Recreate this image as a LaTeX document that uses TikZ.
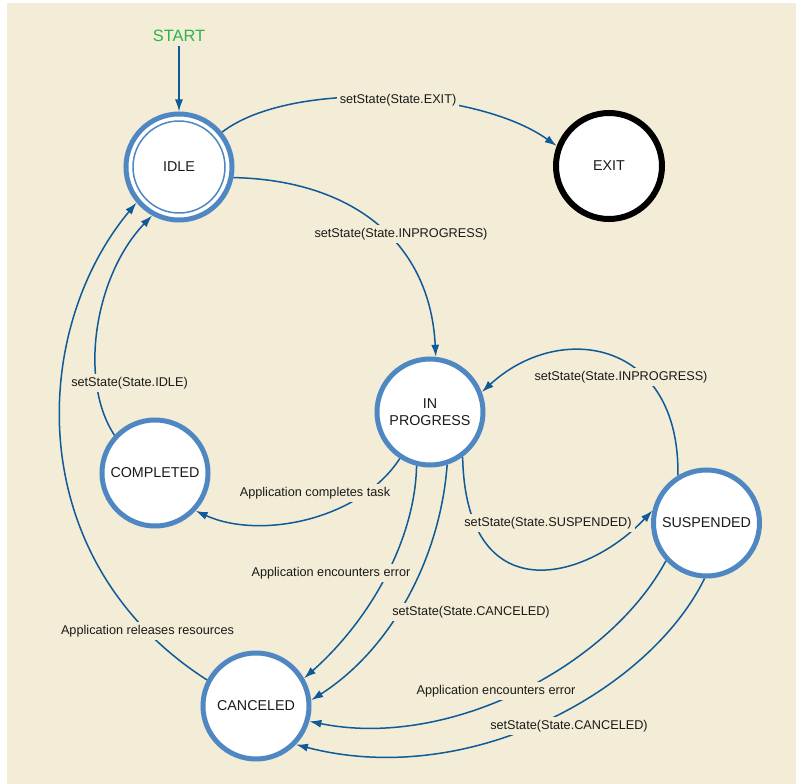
\documentclass[tikz,border=0pt]{standalone}
\usepackage{fontspec}
\setmainfont{Liberation Sans}
\usetikzlibrary{arrows.meta}
\definecolor{bgc}{HTML}{F3ECD6}
\definecolor{stateblue}{HTML}{4F87C2}
\definecolor{linkblue}{HTML}{0F5A98}
\definecolor{startgreen}{HTML}{2DB34A}
\definecolor{txt}{HTML}{1A1A1A}
\begin{document}
\begin{tikzpicture}[x=1pt,y=-1pt,
  statenode/.style={circle, draw=stateblue, line width=5pt, fill=white, minimum size=106pt, inner sep=0pt, font=\fontsize{14.3}{17}\selectfont, text=txt, align=center},
  exitnode/.style={statenode, draw=black, line width=6pt},
  innerring/.style={draw=stateblue, line width=1.5pt},
  link/.style={draw=linkblue, line width=1.5pt, -{Latex[length=12pt,width=8pt]}},
  lbl/.style={fill=bgc, inner sep=3pt, font=\fontsize{12.7}{14}\selectfont, text=txt},
  startlbl/.style={font=\fontsize{16.4}{18}\selectfont, text=startgreen, inner sep=4pt}
]
\useasboundingbox (0,0) rectangle (796,784);
\fill[white] (0,0) rectangle (796,784);
\fill[bgc] (7,3) rectangle (796,784);

% states
\node[startlbl] (start) at (179,36) {START};
\node[statenode] (idle) at (179,167) {IDLE};
\draw[innerring] (idle.center) circle[radius=46pt];
\node[exitnode] (exit) at (609,166) {EXIT};
\node[statenode] (inprog) at (430,412) {IN\\PROGRESS};
\node[statenode] (compl) at (155,473) {COMPLETED};
\node[statenode] (susp) at (706.5,523) {SUSPENDED};
\node[statenode] (canc) at (256,706) {CANCELED};

% transitions
\draw[link] (start) -- (idle);
\draw[link] (idle.39) .. controls (290,80) and (475,88) .. (exit.159);
\draw[link] (idle.-11) .. controls (350,180) and (430,240) .. (inprog.84);
\draw[link] (inprog.-54) .. controls (466,612) and (585,582) .. (susp.167);
\draw[link] (susp.121) .. controls (680,340) and (560,320) .. (inprog.21);
\draw[link] (inprog.-123) .. controls (360,520) and (260,540) .. (compl.-43);
\draw[link] (compl.137) .. controls (78,380) and (95,275) .. (idle.-119);
\draw[link] (canc.152) .. controls (20,560) and (30,330) .. (idle.-140);
\draw[link] (inprog.-104) .. controls (415,540) and (370,620) .. (canc.30);
\draw[link] (inprog.-72) .. controls (440,560) and (390,650) .. (canc.6);
\draw[link] (susp.-137) .. controls (610,665) and (450,750) .. (canc.-16);
\draw[link] (susp.-92) .. controls (650,690) and (470,790) .. (canc.-44);

% labels
\node[lbl] (l1) at (398,100) {setState(State.EXIT)};
\node[lbl] (l2) at (401,234) {setState(State.INPROGRESS)};
\node[lbl] (l3) at (621,377) {setState(State.INPROGRESS)};
\node[lbl] (l4) at (548,523) {setState(State.SUSPENDED)};
\node[lbl] (l5) at (129.5,383) {setState(State.IDLE)};
\node[lbl] (l6) at (315,493) {Application completes task};
\node[lbl] (l7) at (331,573) {Application encounters error};
\node[lbl] (l8) at (471,612) {setState(State.CANCELED)};
\node[lbl] (l9) at (147.5,631) {Application releases resources};
\node[lbl] (l10) at (496,691) {Application encounters error};
\node[lbl] (l11) at (569,726) {setState(State.CANCELED)};
\end{tikzpicture}
\end{document}
